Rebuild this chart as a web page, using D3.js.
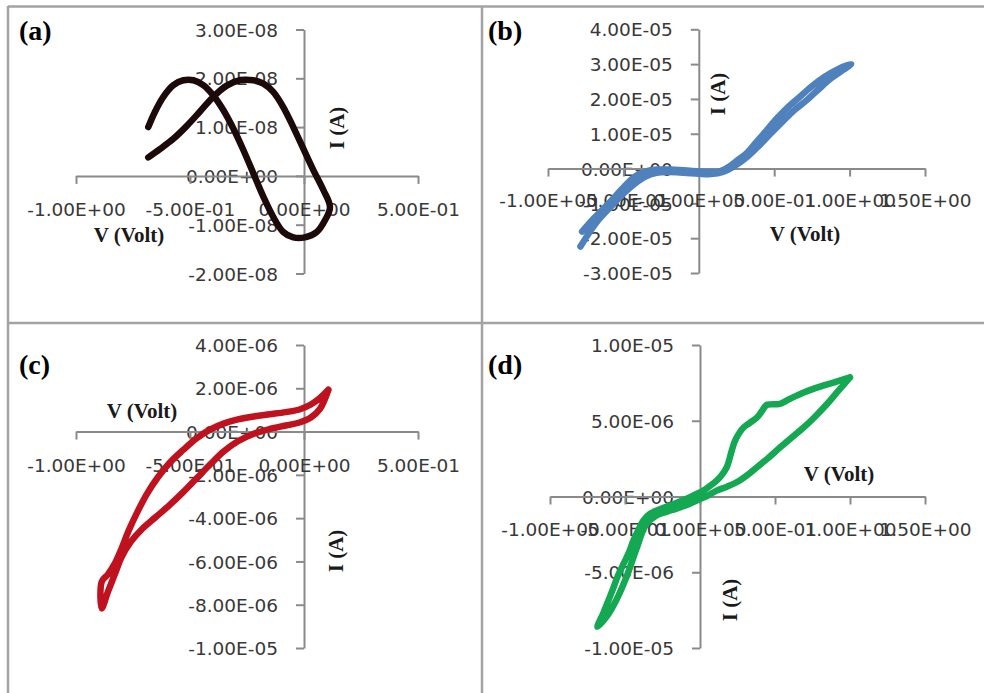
<!DOCTYPE html>
<html>
<head>
<meta charset="utf-8">
<script src="https://cdn.jsdelivr.net/npm/d3@7"></script>
<style>
  html, body { margin: 0; padding: 0; background: #fff; }
  svg { display: block; }
</style>
</head>
<body>
<svg id="chart" width="984" height="693"></svg>
<script>
// ---------------- DATA ----------------
// Panel (a)  V (Volt), I (A)
const aV = [-0.683,-0.632,-0.573,-0.515,-0.456,-0.398,-0.339,-0.281,-0.222,-0.178,-0.135,-0.091,-0.047,-0.003,0.041,0.085,0.114,
            0.092,0.056,0.004,-0.047,-0.091,-0.135,-0.178,-0.222,-0.266,-0.31,-0.354,-0.398,-0.442,-0.485,-0.529,-0.573,-0.617,-0.654,-0.683];
const aI = [0.38e-8,0.55e-8,0.76e-8,1.02e-8,1.32e-8,1.62e-8,1.85e-8,1.96e-8,1.96e-8,1.89e-8,1.72e-8,1.41e-8,1.0e-8,0.56e-8,0.12e-8,-0.29e-8,-0.64e-8,
            -0.91e-8,-1.15e-8,-1.26e-8,-1.26e-8,-1.15e-8,-0.84e-8,-0.43e-8,0.05e-8,0.53e-8,0.97e-8,1.35e-8,1.65e-8,1.86e-8,1.96e-8,1.96e-8,1.86e-8,1.62e-8,1.31e-8,1.0e-8];
const aXTicks = [-1, -0.5, 0, 0.5];
const aYTicks = [-2e-8, -1e-8, 0, 1e-8, 2e-8, 3e-8];

// Panel (b)
const bV = [-0.774,-0.70,-0.62,-0.55,-0.48,-0.42,-0.35,-0.28,-0.2,-0.1,0,0.08,0.14,0.2,0.26,0.32,0.38,0.45,0.52,0.6,0.68,0.76,0.84,0.92,1.01,
            0.96,0.88,0.80,0.72,0.64,0.56,0.48,0.40,0.32,0.24,0.16,0.08,0,-0.1,-0.2,-0.28,-0.35,-0.42,-0.5,-0.58,-0.66,-0.72,-0.785];
const bI = [-1.81e-5,-1.45e-5,-1.1e-5,-0.78e-5,-0.45e-5,-0.22e-5,-0.08e-5,-0.03e-5,-0.03e-5,-0.05e-5,-0.08e-5,-0.1e-5,-0.08e-5,0.05e-5,0.25e-5,0.45e-5,0.75e-5,1.1e-5,1.45e-5,1.8e-5,2.1e-5,2.4e-5,2.65e-5,2.85e-5,3.0e-5,
            2.84e-5,2.6e-5,2.3e-5,1.98e-5,1.7e-5,1.37e-5,1.02e-5,0.66e-5,0.33e-5,0.08e-5,-0.1e-5,-0.16e-5,-0.15e-5,-0.12e-5,-0.1e-5,-0.12e-5,-0.22e-5,-0.42e-5,-0.72e-5,-1.08e-5,-1.45e-5,-1.8e-5,-2.24e-5];
const bXTicks = [-1, -0.5, 0, 0.5, 1, 1.5];
const bYTicks = [-3e-5, -2e-5, -1e-5, 0, 1e-5, 2e-5, 3e-5, 4e-5];

// Panel (c)
const cV = [0.107,0.07,0.03,-0.02,-0.08,-0.15,-0.22,-0.29,-0.35,-0.41,-0.47,-0.53,-0.59,-0.64,-0.69,-0.73,-0.77,-0.80,-0.83,-0.86,-0.887,
            -0.887,-0.86,-0.83,-0.80,-0.76,-0.71,-0.65,-0.59,-0.53,-0.47,-0.41,-0.35,-0.29,-0.22,-0.15,-0.08,-0.02,0.03,0.07,0.107];
const cI = [1.93e-6,1.55e-6,1.25e-6,1.02e-6,0.9e-6,0.8e-6,0.7e-6,0.56e-6,0.38e-6,0.1e-6,-0.3e-6,-0.85e-6,-1.45e-6,-2.1e-6,-2.9e-6,-3.7e-6,-4.6e-6,-5.4e-6,-6.1e-6,-6.6e-6,-6.93e-6,
            -8.17e-6,-7.4e-6,-6.6e-6,-5.8e-6,-5.1e-6,-4.5e-6,-3.95e-6,-3.4e-6,-2.8e-6,-2.15e-6,-1.5e-6,-0.9e-6,-0.45e-6,-0.1e-6,0.12e-6,0.28e-6,0.42e-6,0.65e-6,1.05e-6,1.93e-6];
const cXTicks = [-1, -0.5, 0, 0.5];
const cYTicks = [-1e-5, -8e-6, -6e-6, -4e-6, -2e-6, 0, 2e-6, 4e-6];

// Panel (d)
const dV = [1.0,0.9,0.8,0.7,0.6,0.533,0.47,0.444,0.41,0.378,0.33,0.29,0.256,0.23,0.211,0.178,0.14,0.111,0.06,0.022,-0.067,-0.2,-0.333,-0.378,-0.41,-0.444,-0.47,-0.51,-0.55,-0.58,-0.61,-0.645,-0.684,
            -0.62,-0.556,-0.49,-0.42,-0.36,-0.29,-0.22,-0.156,-0.08,-0.022,0.05,0.111,0.18,0.244,0.32,0.378,0.45,0.533,0.60,0.689,0.76,0.844,0.92,1.0];
const dI = [7.86e-6,7.55e-6,7.25e-6,6.9e-6,6.45e-6,6.12e-6,6.08e-6,6.05e-6,5.6e-6,5.2e-6,4.85e-6,4.55e-6,4.1e-6,3.6e-6,3.0e-6,1.92e-6,1.35e-6,1.05e-6,0.65e-6,0.39e-6,-0.04e-6,-0.59e-6,-1.14e-6,-1.6e-6,-2.2e-6,-2.9e-6,-3.6e-6,-4.45e-6,-5.3e-6,-6.1e-6,-6.85e-6,-7.7e-6,-8.6e-6,
            -7.9e-6,-6.8e-6,-5.3e-6,-3.35e-6,-1.85e-6,-1.25e-6,-1.0e-6,-0.8e-6,-0.52e-6,-0.26e-6,0.05e-6,0.39e-6,0.65e-6,0.94e-6,1.45e-6,1.92e-6,2.5e-6,3.23e-6,3.8e-6,4.54e-6,5.2e-6,6.07e-6,6.95e-6,7.86e-6];
const dXTicks = [-1, -0.5, 0, 0.5, 1, 1.5];
const dYTicks = [-1e-5, -5e-6, 0, 5e-6, 1e-5];

const panelLabels = ["(a)", "(b)", "(c)", "(d)"];
const xTitle = "V (Volt)";
const yTitle = "I (A)";

// ---------------- DRAWING ----------------
const svg = d3.select("#chart");
svg.append("rect").attr("width", 984).attr("height", 693).attr("fill", "#fff");

// table grid
const grid = svg.append("g").attr("stroke", "#a3a3a3").attr("stroke-width", 2.5).attr("fill", "none");
grid.append("line").attr("x1", 8).attr("x2", 8).attr("y1", 6).attr("y2", 693);
grid.append("line").attr("x1", 8).attr("x2", 984).attr("y1", 6.5).attr("y2", 6.5);
grid.append("line").attr("x1", 482).attr("x2", 482).attr("y1", 6).attr("y2", 693);
grid.append("line").attr("x1", 8).attr("x2", 984).attr("y1", 323).attr("y2", 323);

function fmtE(v) {
  if (v === 0) return "0.00E+00";
  const e = Math.floor(Math.log10(Math.abs(v)) + 1e-9);
  const m = v / Math.pow(10, e);
  return m.toFixed(2) + "E" + (e < 0 ? "-" : "+") + String(Math.abs(e)).padStart(2, "0");
}

function drawPanel(p) {
  const x = d3.scaleLinear().domain(d3.extent(p.xTicks)).range(p.xr);
  const y = d3.scaleLinear().domain(d3.extent(p.yTicks)).range(p.yr);
  const g = svg.append("g");
  const x0 = x(0), y0 = y(0);

  // y axis
  const ya = g.append("g").attr("transform", `translate(${x0},0)`)
    .call(d3.axisLeft(y).tickValues(p.yTicks).tickFormat(fmtE).tickSize(8).tickSizeOuter(0).tickPadding(18));
  // x axis
  const xa = g.append("g").attr("transform", `translate(0,${y0})`)
    .call(d3.axisBottom(x).tickValues(p.xTicks).tickFormat(fmtE).tickSize(8).tickSizeOuter(0));
  xa.selectAll("text").attr("y", p.xLabY - y0).attr("dy", "0.36em");
  [ya, xa].forEach(a => {
    a.select(".domain").attr("stroke", "#8a8a8a").attr("stroke-width", 2);
    a.selectAll(".tick line").attr("stroke", "#8a8a8a").attr("stroke-width", 2);
    a.selectAll("text").attr("font-family", "'DejaVu Sans', sans-serif").attr("font-size", 18.5).attr("fill", "#383838");
  });
  ya.selectAll("text").attr("dy", "0.36em");

  // axis titles
  g.append("text").attr("x", p.xt[0]).attr("y", p.xt[1]).attr("text-anchor", "middle")
    .attr("font-family", "'Liberation Serif', 'Times New Roman', serif").attr("font-weight", "bold")
    .attr("font-size", 21).attr("fill", "#1a1a1a").text(xTitle);
  g.append("text").attr("transform", `translate(${p.yt[0]},${p.yt[1]}) rotate(-90)`).attr("dy", "0.35em")
    .attr("text-anchor", "middle")
    .attr("font-family", "'Liberation Serif', 'Times New Roman', serif").attr("font-weight", "bold")
    .attr("font-size", 21).attr("fill", "#1a1a1a").text(yTitle);

  // curve
  const pts = p.V.map((v, i) => [v, p.I[i]]);
  g.append("path").datum(pts)
    .attr("d", d3.line().x(d => x(d[0])).y(d => y(d[1])).curve(d3.curveCatmullRom.alpha(0.5)))
    .attr("fill", "none").attr("stroke", p.color).attr("stroke-width", 6.5)
    .attr("stroke-linejoin", "round").attr("stroke-linecap", "round");

  // panel label
  g.append("text").attr("x", p.lab[0]).attr("y", p.lab[1])
    .attr("font-family", "'Liberation Serif', 'Times New Roman', serif").attr("font-weight", "bold")
    .attr("font-size", 28).attr("fill", "#000").text(p.label);
}

drawPanel({ V: aV, I: aI, xTicks: aXTicks, yTicks: aYTicks, xr: [76, 418], yr: [273.5, 29.5],
  xLabY: 209, xt: [129, 242], yt: [337, 128], lab: [19, 40], label: panelLabels[0], color: "#1c0a0a" });
drawPanel({ V: bV, I: bI, xTicks: bXTicks, yTicks: bYTicks, xr: [548, 925], yr: [273, 29.3],
  xLabY: 200, xt: [805, 241], yt: [718, 94], lab: [488, 40], label: panelLabels[1], color: "#4f81bd" });
drawPanel({ V: cV, I: cI, xTicks: cXTicks, yTicks: cYTicks, xr: [76, 418], yr: [648, 345],
  xLabY: 465, xt: [142, 418], yt: [336, 551], lab: [19, 374], label: panelLabels[2], color: "#c0121e" });
drawPanel({ V: dV, I: dI, xTicks: dXTicks, yTicks: dYTicks, xr: [550, 925], yr: [648, 345],
  xLabY: 529, xt: [839, 481], yt: [730, 600], lab: [488, 374], label: panelLabels[3], color: "#14a853" });
</script>
</body>
</html>
